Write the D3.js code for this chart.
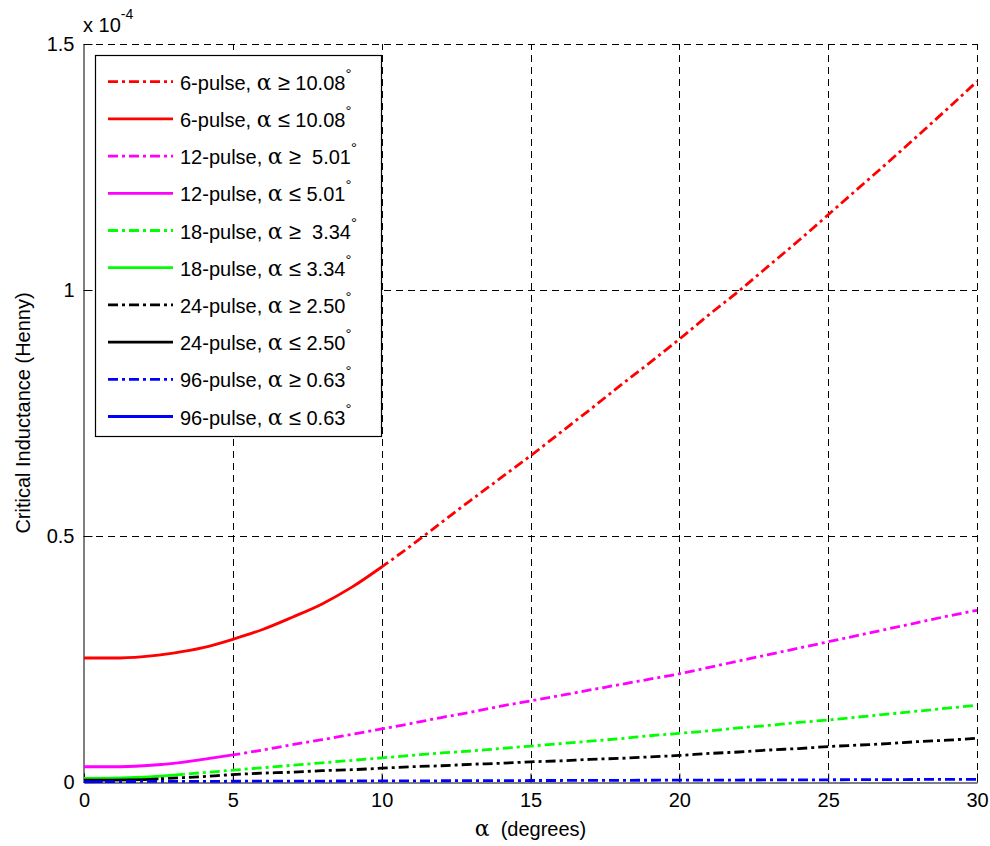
<!DOCTYPE html>
<html>
<head>
<meta charset="utf-8">
<script src="https://cdn.jsdelivr.net/npm/d3@7"></script>
<style>
  html, body { margin: 0; padding: 0; background: #fff; }
  svg { display: block; font-family: "Liberation Sans", Arial, sans-serif; }
</style>
</head>
<body>
<svg id="chart" width="990" height="846"></svg>
<script>
// ---- data (inductance in units of 1e-4 H) ----
const alpha = [0,1,2,3,4,5,6,7,8,9,10,11,12,13,14,15,16,17,18,19,20,21,22,23,24,25,26,27,28,29,30];
const L6  = [0.252,0.252,0.255,0.262,0.273,0.290,0.310,0.335,0.362,0.396,0.437,0.481,0.527,0.573,0.618,0.663,0.710,0.757,0.805,0.852,0.900,0.950,0.998,1.049,1.100,1.153,1.206,1.259,1.313,1.368,1.424];
const L12 = [0.031,0.031,0.033,0.038,0.046,0.055,0.065,0.076,0.086,0.097,0.108,0.119,0.131,0.142,0.154,0.165,0.176,0.187,0.198,0.209,0.220,0.233,0.246,0.259,0.272,0.285,0.298,0.311,0.324,0.337,0.349];
const L18 = [0.0075,0.008,0.010,0.014,0.019,0.024,0.029,0.034,0.039,0.044,0.049,0.054,0.059,0.063,0.068,0.073,0.078,0.083,0.088,0.094,0.099,0.104,0.110,0.115,0.121,0.126,0.132,0.138,0.144,0.150,0.156];
const L24 = [0.004,0.004,0.005,0.008,0.011,0.015,0.018,0.020,0.023,0.025,0.028,0.031,0.033,0.036,0.038,0.041,0.043,0.046,0.048,0.051,0.054,0.058,0.061,0.065,0.068,0.072,0.075,0.078,0.082,0.085,0.089];
const L96 = [0.0004,0.0008,0.0011,0.0013,0.0014,0.0015,0.0017,0.0018,0.0019,0.0021,0.0022,0.0024,0.0025,0.0027,0.0028,0.0030,0.0031,0.0033,0.0034,0.0036,0.0037,0.0039,0.0040,0.0042,0.0044,0.0045,0.0047,0.0049,0.0051,0.0053,0.0055];

const pulseNames = ["6-pulse", "12-pulse", "18-pulse", "24-pulse", "96-pulse"];
const thresholds = [10.08, 5.01, 3.34, 2.50, 0.63];
const thresholdLabels = ["10.08", "5.01", "3.34", "2.50", "0.63"];
const geSpacing = [" ", "  ", "  ", " ", " "];
const seriesValues = [L6, L12, L18, L24, L96];
const colors = ["#ff0000", "#ff00ff", "#00ff00", "#000000", "#0000ff"];

const xTicks = [0, 5, 10, 15, 20, 25, 30];
const yTicks = [0, 0.5, 1, 1.5];
const yTickLabels = ["0", "0.5", "1", "1.5"];

// ---- layout ----
const FS = 20;
const svg = d3.select("#chart");
const margin = { left: 84, top: 44, right: 977, bottom: 782 };
const x = d3.scaleLinear().domain([0, 30]).range([margin.left, margin.right]);
const y = d3.scaleLinear().domain([0, 1.5]).range([margin.bottom, margin.top]);

const defs = svg.append("defs");

// grid
const grid = svg.append("g");
grid.selectAll(".vg").data(xTicks.filter(d => d > 0)).enter().append("line")
  .attr("x1", d => Math.round(x(d)) + 0.5).attr("x2", d => Math.round(x(d)) + 0.5)
  .attr("y1", y(0)).attr("y2", y(1.5))
  .attr("stroke", "#000").attr("stroke-width", 1).attr("stroke-dasharray", "7,5");
grid.selectAll(".hg").data(yTicks.filter(d => d > 0)).enter().append("line")
  .attr("y1", d => Math.round(y(d)) + 0.5).attr("y2", d => Math.round(y(d)) + 0.5)
  .attr("x1", x(0)).attr("x2", x(30))
  .attr("stroke", "#000").attr("stroke-width", 1).attr("stroke-dasharray", "7,5");

// axes
const xAxis = d3.axisBottom(x).tickValues(xTicks).tickSizeInner(-9).tickSizeOuter(0).tickPadding(17);
const yAxis = d3.axisLeft(y).tickValues(yTicks).tickFormat((d, i) => yTickLabels[i]).tickSizeInner(-9).tickSizeOuter(0).tickPadding(9);

const gx = svg.append("g").attr("transform", `translate(0,${margin.bottom + 0.5})`).call(xAxis);
const gy = svg.append("g").attr("transform", `translate(${margin.left - 0.5},0)`).call(yAxis);
[gx, gy].forEach(g => {
  g.selectAll("text").attr("font-size", FS).attr("fill", "#000").attr("font-family", "Liberation Sans, Arial, sans-serif");
  g.select(".domain").attr("stroke", "#000");
  g.selectAll(".tick line").attr("stroke", "#000");
});
gx.selectAll("text").attr("dy", "0.35em");

// curves
const line = d3.line().x((d, i) => x(alpha[i])).y(d => y(d)).curve(d3.curveMonotoneX);
const curves = svg.append("g");
seriesValues.forEach((vals, k) => {
  const thr = thresholds[k];
  const idS = "clipS" + k, idD = "clipD" + k;
  defs.append("clipPath").attr("id", idS).append("rect")
    .attr("x", x(0) - 5).attr("y", 0).attr("width", x(thr) - x(0) + 5).attr("height", 846);
  defs.append("clipPath").attr("id", idD).append("rect")
    .attr("x", x(thr)).attr("y", 0).attr("width", x(30) - x(thr) + 5).attr("height", 846);
  curves.append("path").attr("d", line(vals)).attr("fill", "none")
    .attr("stroke", colors[k]).attr("stroke-width", 2.8)
    .attr("stroke-dasharray", "10,4,3,4")
    .attr("clip-path", `url(#${idD})`);
  curves.append("path").attr("d", line(vals)).attr("fill", "none")
    .attr("stroke", colors[k]).attr("stroke-width", 2.8)
    .attr("clip-path", `url(#${idS})`);
});

// exponent label
const ex = svg.append("text").attr("x", 83).attr("y", 32).attr("font-size", FS).attr("fill", "#000");
ex.append("tspan").text("x 10");
ex.append("tspan").attr("dy", -13).attr("font-size", 14).text("-4");

// axis titles
svg.append("text").attr("x", x(15)).attr("y", 836).attr("text-anchor", "middle")
  .attr("font-size", FS).attr("fill", "#000")
  .html('<tspan font-family="DejaVu Serif, Liberation Serif, serif" font-size="22">α</tspan><tspan xml:space="preserve">  (degrees)</tspan>');
svg.append("text").attr("transform", `translate(30,${(margin.top + margin.bottom) / 2}) rotate(-90)`)
  .attr("text-anchor", "middle").attr("font-size", FS).attr("fill", "#000")
  .text("Critical Inductance (Henny)");

// legend
const leg = svg.append("g");
leg.append("rect").attr("x", 95.5).attr("y", 55.5).attr("width", 286).attr("height", 381)
  .attr("fill", "#fff").attr("stroke", "#000").attr("stroke-width", 1.2);
const rowH = 37.2;
let row = 0;
pulseNames.forEach((name, k) => {
  ["ge", "le"].forEach(kind => {
    const cy = 81.7 + row * rowH;
    leg.append("line").attr("x1", 108).attr("x2", 173).attr("y1", cy).attr("y2", cy)
      .attr("stroke", colors[k]).attr("stroke-width", 2.8)
      .attr("stroke-dasharray", kind === "ge" ? "10,4,3,4" : null);
    const t = leg.append("text").attr("x", 180).attr("y", cy + 8).attr("font-size", FS)
      .attr("fill", "#000").attr("xml:space", "preserve");
    t.append("tspan").text(name + ", ");
    t.append("tspan").attr("font-family", "DejaVu Serif, Liberation Serif, serif").attr("font-size", 22).text("α");
    const sym = kind === "ge" ? "≥" : "≤";
    const sp = kind === "ge" ? geSpacing[k] : " ";
    t.append("tspan").attr("font-size", 22).text(" " + sym);
    t.append("tspan").text(sp + thresholdLabels[k]);
    t.append("tspan").attr("dy", -11).attr("font-size", 15).text("°");
    row++;
  });
});
</script>
</body>
</html>
